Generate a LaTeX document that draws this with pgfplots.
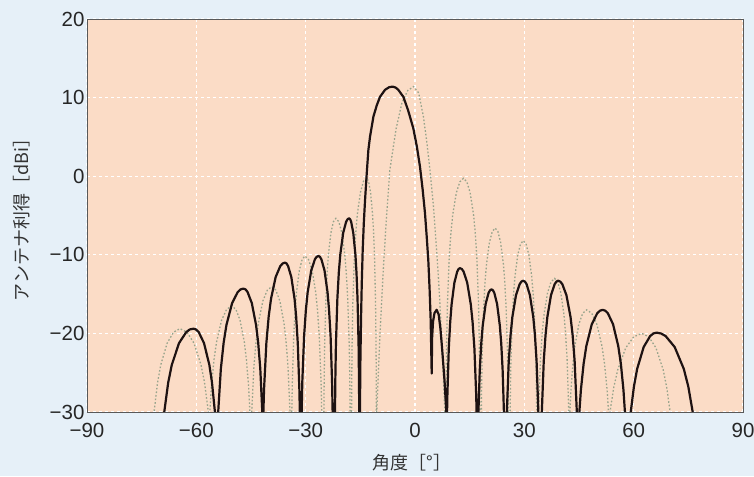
\documentclass[border=0pt]{standalone}
\usepackage{fontspec}
\setmainfont{Liberation Sans}
\newfontfamily\jp{Noto Sans CJK JP}
\usepackage{pgfplots}
\pgfplotsset{compat=1.18}
\usetikzlibrary{backgrounds}
\definecolor{bgblue}{HTML}{E6F0F8}
\definecolor{peach}{HTML}{FBDCC6}
\definecolor{dotc}{HTML}{98A48C}
\definecolor{curvec}{HTML}{1E1212}
\begin{document}
\begin{tikzpicture}
\begin{axis}[
 scale only axis, width=656pt, height=393pt,
 at={(0,0)}, anchor=south west,
 xmin=-90, xmax=90, ymin=-30, ymax=20,
 xtick={-90,-60,-30,0,30,60,90},
 xticklabels={−90,−60,−30,0,30,60,90},
 ytick={-30,-20,-10,0,10,20},
 yticklabels={−30,−20,−10,0,10,20},
 major tick length=0pt,
 axis background/.style={fill=peach},
 axis line style={draw=black!65, line width=0.8pt},
 grid=major,
 major grid style={white, line width=1.1pt, dash pattern=on 3pt off 3pt},
 tick label style={font=\fontsize{20.5}{23}\selectfont, text=black!85},
 xticklabel style={yshift=-8pt},
 yticklabel style={xshift=1pt},
 xlabel={\jp\fontsize{18}{20}\selectfont 角度［°］},
 ylabel={\jp\fontsize{18}{20}\selectfont アンテナ利得［dBi］},
 every axis x label/.style={at={(axis description cs:0.495,-0.1298)}, anchor=center, text=black!80},
 every axis y label/.style={at={(axis description cs:-0.1,0.5)}, rotate=90, anchor=center, text=black!80},
]
\addplot[dotc, line width=1.3pt, dash pattern=on 1.6pt off 2pt] coordinates {
(-73,-50)
(-71.6,-30) (-70.64,-26.26) (-69.76,-24.0) (-68.01,-21.24) (-66.25,-19.84) (-64.5,-19.4) (-62.57,-19.84) (-60.65,-21.24) (-58.72,-24.0) (-57.75,-26.26) (-56.7,-30)
(-56.5,-50)
(-56.3,-30) (-55.85,-26.7) (-55.16,-23.36) (-54.46,-21.11) (-53.08,-18.34) (-51.69,-16.94) (-50.3,-16.5) (-49.14,-16.94) (-47.99,-18.34) (-46.83,-21.11) (-46.25,-23.36) (-45.67,-26.7) (-45.3,-30)
(-45.05,-50)
(-44.8,-30) (-44.2,-24.25) (-43.59,-20.91) (-42.98,-18.66) (-41.75,-15.89) (-40.52,-14.49) (-39.3,-14.05) (-38.19,-14.49) (-37.07,-15.89) (-35.96,-18.66) (-35.4,-20.91) (-34.85,-24.25) (-34.3,-30)
(-34.05,-50)
(-33.8,-30) (-33.66,-26.25) (-33.28,-20.35) (-32.89,-17.01) (-32.51,-14.76) (-31.74,-11.99) (-30.97,-10.59) (-30.2,-10.15) (-29.22,-10.59) (-28.23,-11.99) (-27.25,-14.76) (-26.76,-17.01) (-26.27,-20.35) (-25.77,-26.25) (-25.6,-30)
(-25.3,-50)
(-25.0,-30) (-24.92,-25.86) (-24.79,-21.46) (-24.44,-15.56) (-24.1,-12.22) (-23.76,-9.97) (-23.07,-7.20) (-22.39,-5.80) (-21.7,-5.36) (-20.89,-5.80) (-20.08,-7.20) (-19.27,-9.97) (-18.86,-12.22) (-18.46,-15.56) (-18.05,-21.46) (-17.89,-25.86) (-17.8,-30)
(-17.6,-50)
(-17.4,-30) (-17.32,-24.2) (-17.24,-20.7) (-17.07,-16.3) (-16.65,-10.4) (-16.23,-7.06) (-15.81,-4.81) (-14.97,-2.04) (-14.14,-0.64) (-13.3,-0.2) (-12.75,-0.64) (-12.2,-2.04) (-11.65,-4.81) (-11.37,-7.06) (-11.09,-10.4) (-10.82,-16.3) (-10.71,-20.7) (-10.65,-24.2) (-10.6,-30)
(-10.55,-50)
(-10.5,-30) (-9.6,-20) (-8.7,-11.9) (-7.8,-5) (-6.9,0.8) (-5.2,6.0) (-3.6,9.3) (-2.0,10.9) (-0.4,11.4) (1.0,10.6) (2.3,7.6) (3.2,4.5) (4.1,0.8) (5.0,-3.5) (6.0,-9.8) (6.7,-15) (7.3,-20.4) (8.2,-30)
(8.35,-50)
(8.5,-30) (8.6,-24.27) (8.69,-20.77) (8.89,-16.37) (9.38,-10.47) (9.87,-7.13) (10.36,-4.88) (11.34,-2.11) (12.32,-0.71) (13.3,-0.27) (14.22,-0.71) (15.14,-2.11) (16.06,-4.88) (16.52,-7.13) (16.98,-10.47) (17.44,-16.37) (17.62,-20.77) (17.71,-24.27) (17.8,-30)
(18.0,-50)
(18.2,-30) (18.27,-27.1) (18.43,-22.7) (18.82,-16.8) (19.22,-13.46) (19.62,-11.21) (20.41,-8.44) (21.21,-7.04) (22.0,-6.6) (22.75,-7.04) (23.5,-8.44) (24.26,-11.21) (24.63,-13.46) (25.01,-16.8) (25.39,-22.7) (25.54,-27.1) (25.6,-30)
(25.85,-50)
(26.1,-30) (26.28,-24.3) (26.66,-18.4) (27.04,-15.06) (27.42,-12.81) (28.18,-10.04) (28.94,-8.64) (29.7,-8.2) (30.48,-8.64) (31.26,-10.04) (32.04,-12.81) (32.43,-15.06) (32.82,-18.4) (33.21,-24.3) (33.4,-30)
(33.65,-50)
(33.9,-30) (34.43,-23.2) (34.91,-19.86) (35.4,-17.61) (36.37,-14.84) (37.33,-13.44) (38.3,-13.0) (39.16,-13.44) (40.01,-14.84) (40.87,-17.61) (41.3,-19.86) (41.73,-23.2) (42.2,-30)
(42.35,-50)
(42.5,-30) (42.8,-27.2) (43.34,-23.86) (43.88,-21.61) (44.95,-18.84) (46.03,-17.44) (47.1,-17.0) (48.5,-17.44) (49.9,-18.84) (51.3,-21.61) (52.01,-23.86) (52.71,-27.2) (53.1,-30)
(53.3,-50)
(53.5,-30) (54.54,-26.86) (55.64,-24.61) (57.82,-21.84) (60.01,-20.44) (62.2,-20.0) (64.16,-20.44) (66.12,-21.84) (68.09,-24.61) (69.07,-26.86) (70.0,-30)
(72,-50)
};
\addplot[curvec, line width=2.2pt, line join=round] coordinates {
(-70,-50)
(-68.8,-30) (-67.72,-26.26) (-66.73,-24.0) (-64.75,-21.24) (-62.78,-19.84) (-61.8,-19.5) (-60.8,-19.4) (-60.1,-19.5) (-59.34,-19.84) (-57.89,-21.24) (-56.43,-24.0) (-55.70,-26.26) (-54.9,-30)
(-54.45,-50)
(-54.0,-30) (-53.27,-24.5) (-52.50,-21.16) (-51.73,-18.91) (-50.18,-16.14) (-48.64,-14.74) (-47.85,-14.4) (-47.1,-14.3) (-46.5,-14.4) (-45.94,-14.74) (-44.78,-16.14) (-43.62,-18.91) (-43.03,-21.16) (-42.45,-24.5) (-41.9,-30)
(-41.75,-50)
(-41.6,-30) (-41.42,-27.1) (-40.78,-21.2) (-40.15,-17.86) (-39.51,-15.61) (-38.24,-12.84) (-36.97,-11.44) (-36.3,-11.1) (-35.7,-11.0) (-35.25,-11.1) (-34.82,-11.44) (-33.93,-12.84) (-33.05,-15.61) (-32.61,-17.86) (-32.17,-21.2) (-31.73,-27.1) (-31.6,-30)
(-31.35,-50)
(-31.1,-30) (-30.93,-26.25) (-30.43,-20.35) (-29.94,-17.01) (-29.45,-14.76) (-28.47,-11.99) (-27.48,-10.59) (-27.0,-10.26) (-26.5,-10.15) (-26.08,-10.26) (-25.67,-10.59) (-24.83,-11.99) (-24.0,-14.76) (-23.58,-17.01) (-23.16,-20.35) (-22.75,-26.25) (-22.6,-30)
(-22.3,-50)
(-21.95,-30) (-21.86,-25.86) (-21.70,-21.46) (-21.30,-15.56) (-20.90,-12.22) (-20.50,-9.97) (-19.70,-7.20) (-18.90,-5.80) (-18.5,-5.47) (-18.1,-5.36) (-17.8,-5.47) (-17.52,-5.80) (-16.94,-7.20) (-16.35,-9.97) (-16.06,-12.22) (-15.77,-15.56) (-15.48,-21.46) (-15.37,-25.86) (-15.3,-30)
(-15.2,-50)
(-15.1,-30) (-15.0,-24) (-14.8,-17.9) (-14.6,-13.5) (-14.35,-9.4) (-14.05,-6.0) (-13.7,-3.0) (-13.25,0.3) (-12.8,3.3) (-12.35,5.0) (-11.4,7.6) (-10.5,9.0) (-9.6,10.1) (-8.2,11.0) (-7.1,11.32) (-6.1,11.4) (-5.3,11.27) (-4.6,11.0) (-3.2,10.1) (-1.9,8.4) (-0.47,6.1) (0.5,3.8) (1.37,1.2) (2.1,-1.7) (2.74,-4.7) (3.2,-7.6) (3.65,-10.7) (4.0,-14.3) (4.3,-18.3) (4.58,-25.1)
(4.7,-20.5) (4.95,-18.5) (5.35,-17.4) (5.95,-17.0) (6.5,-17.6) (7.0,-19.5) (7.5,-22.3) (8.1,-26.0) (8.6,-30)
(8.7,-50)
(8.8,-30) (8.89,-27.8) (9.27,-21.9) (9.66,-18.56) (10.04,-16.31) (10.81,-13.54) (11.58,-12.14) (11.95,-11.81) (12.35,-11.7) (12.85,-11.81) (13.34,-12.14) (14.32,-13.54) (15.31,-16.31) (15.80,-18.56) (16.30,-21.9) (16.79,-27.8) (16.9,-30)
(17.15,-50)
(17.4,-30) (17.78,-24.6) (18.18,-21.26) (18.58,-19.01) (19.39,-16.24) (20.19,-14.84) (20.6,-14.51) (21.0,-14.4) (21.38,-14.51) (21.76,-14.84) (22.52,-16.24) (23.28,-19.01) (23.66,-21.26) (24.04,-24.6) (24.4,-30)
(24.8,-50)
(25.2,-30) (25.73,-23.5) (26.23,-20.16) (26.72,-17.91) (27.71,-15.14) (28.71,-13.74) (29.2,-13.41) (29.7,-13.3) (30.16,-13.41) (30.62,-13.74) (31.53,-15.14) (32.45,-17.91) (32.90,-20.16) (33.36,-23.5) (33.85,-30)
(34.3,-50)
(34.8,-30) (35.33,-23.5) (35.83,-20.16) (36.32,-17.91) (37.31,-15.14) (38.31,-13.74) (38.8,-13.41) (39.3,-13.3) (39.86,-13.41) (40.43,-13.74) (41.55,-15.14) (42.68,-17.91) (43.24,-20.16) (43.80,-23.5) (44.4,-30)
(44.75,-50)
(45.1,-30) (45.52,-27.2) (46.27,-23.86) (47.01,-21.61) (48.51,-18.84) (50.0,-17.44) (50.75,-17.11) (51.5,-17.0) (52.2,-17.11) (52.92,-17.44) (54.35,-18.84) (55.77,-21.61) (56.49,-23.86) (57.2,-27.2) (57.6,-30)
(58.4,-50)
(59.2,-30) (60.07,-26.76) (60.96,-24.51) (62.74,-21.74) (64.52,-20.34) (65.4,-20.01) (66.3,-19.9) (67.5,-20.01) (68.78,-20.34) (71.26,-21.74) (73.75,-24.51) (74.99,-26.76) (76.2,-30)
(78,-50)
};
\end{axis}
\begin{pgfonlayer}{background}
\fill[bgblue] (-87pt,-64pt) rectangle (667pt,412pt);
\end{pgfonlayer}
\pgfresetboundingbox
\useasboundingbox (-87pt,-64pt) rectangle (667pt,412pt);
\end{tikzpicture}
\end{document}
